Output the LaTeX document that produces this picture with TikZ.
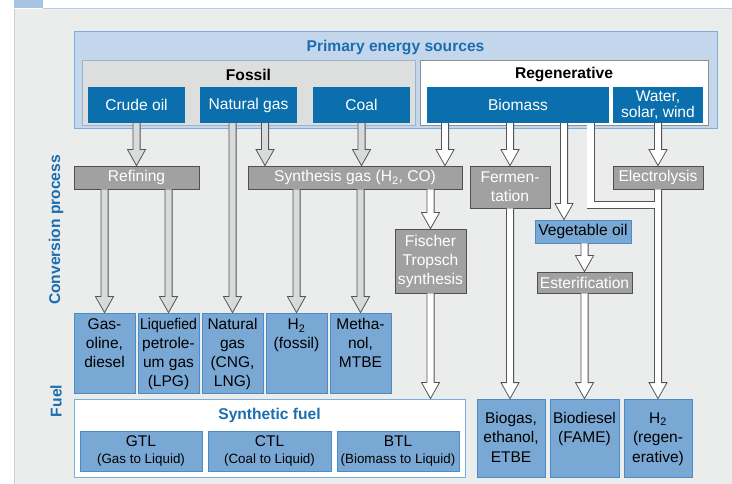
\documentclass[tikz,border=0pt]{standalone}
\usepackage{fontspec}
\setmainfont{Liberation Sans}
\usepackage{graphicx}
\usepackage{xcolor}
\usetikzlibrary{calc}

\definecolor{pagegray}{HTML}{EBECEC}
\definecolor{edgegray}{HTML}{CFCFCF}
\definecolor{tabblue}{HTML}{A9C4E2}
\definecolor{tabline}{HTML}{B5CDE6}
\definecolor{primfill}{HTML}{C3D6EB}
\definecolor{primline}{HTML}{7AAEDB}
\definecolor{fossilbg}{HTML}{DDDEDE}
\definecolor{fossilline}{HTML}{9DB3C8}
\definecolor{regenline}{HTML}{8F8F8F}
\definecolor{srcblue}{HTML}{0B6FAE}
\definecolor{procgray}{HTML}{A0A1A0}
\definecolor{procline}{HTML}{505050}
\definecolor{fuelblue}{HTML}{7AA8D4}
\definecolor{fuelline}{HTML}{4A8BC8}
\definecolor{titleblue}{HTML}{1A6EB0}
\definecolor{arrowfill}{HTML}{D9DADA}
\definecolor{arrowline}{HTML}{555555}

\newcommand{\mainsize}{\fontsize{15.6}{18}\selectfont}
\newcommand{\smallsize}{\fontsize{13.4}{16}\selectfont}
\newcommand{\fuelcell}[2][61pt]{\parbox[t]{#1}{\centering #2}}

\tikzset{
  group/.style={rectangle,line width=1pt,inner sep=0pt},
  grouptitle/.style={font=\mainsize\bfseries,inner sep=0pt},
  src/.style={rectangle,fill=srcblue,text=white,minimum height=36pt,inner sep=0pt,align=center,font=\mainsize},
  proc/.style={rectangle,fill=procgray,draw=procline,line width=0.8pt,text=white,inner sep=0pt,align=center,font=\mainsize},
  fossilfuel/.style={rectangle,fill=fuelblue,draw=fuelline,line width=0.8pt,font=\fontsize{15.5}{19}\selectfont,
    minimum width=61pt,inner xsep=0pt,inner ysep=6pt,text height=11pt,text depth=57pt},
  regenfuel/.style={rectangle,fill=fuelblue,draw=fuelline,line width=0.8pt,font=\fontsize{15.5}{19.5}\selectfont,
    inner xsep=0pt,inner ysep=6pt,text height=18pt,text depth=48pt},
  synfuel/.style={rectangle,fill=fuelblue,draw=fuelline,line width=0.8pt,align=center,font=\fontsize{15.5}{18}\selectfont,
    minimum height=40pt,inner sep=0pt},
  sidelabel/.style={text=titleblue,font=\mainsize\bfseries,rotate=90,inner sep=0pt},
  blockarrow/.style={draw=arrowline,line width=0.8pt,line join=miter,
    to path={let \p1=(\tikztostart), \p2=(\tikztotarget) in
      (\x1-3.6pt,\y1) -- (\x1-3.6pt,\y2+16pt) -- (\x1-9pt,\y2+16pt) -- (\x1,\y2)
      -- (\x1+9pt,\y2+16pt) -- (\x1+3.6pt,\y2+16pt) -- (\x1+3.6pt,\y1)}},
  fossilarrow/.style={blockarrow,fill=arrowfill},
  regenarrow/.style={blockarrow,fill=white}
}

\begin{document}
\begin{tikzpicture}[x=1pt,y=-1pt]
        \useasboundingbox (0,0) rectangle (732,484);
        \fill[white] (0,0) rectangle (732,484);
        \fill[pagegray] (14,9) rectangle (732,484);
        \draw[edgegray,line width=1pt] (14,9) -- (14,484);
        \fill[tabblue] (14,0) rectangle (43,8.5);
        \draw[tabline,line width=1pt] (43,8.5) -- (732,8.5);

        % primary energy sources
        \node[group,fill=primfill,draw=primline,minimum width=643pt,minimum height=97pt] (primary) at (395.5,80.5) {};
        \node[group,fill=fossilbg,draw=fossilline,minimum width=333pt,minimum height=65pt] (fossil) at (248.5,93.5) {};
        \node[group,fill=white,draw=regenline,minimum width=288pt,minimum height=65pt] (regen) at (564,93.5) {};
        \node[grouptitle,text=titleblue] (primtitle) at (395.5,47.5) {Primary energy sources};
        \node[grouptitle] (fossiltitle) at (248.5,75) {Fossil};
        \node[grouptitle] (regentitle) at (564,75) {Regenerative};

        \node[src,minimum width=97pt] (crude) at (136.5,105) {Crude oil};
        \node[src,minimum width=97pt] (natgas) at (248.5,105) {Natural gas};
        \node[src,minimum width=97pt] (coal) at (361.5,105) {Coal};
        \node[src,minimum width=182pt] (biomass) at (518,105) {Biomass};
        \node[src,minimum width=90pt,font=\fontsize{15.6}{16}\selectfont] (water) at (658,105) {Water,\\solar, wind};

        % conversion process
        \node[proc,minimum width=125pt,minimum height=23pt] (refining) at (136.5,177.5) {Refining};
        \node[proc,minimum width=214pt,minimum height=23pt] (syngas) at (355,177.5) {Synthesis gas (H\textsubscript{2}, CO)};
        \node[proc,minimum width=80pt,minimum height=42pt,font=\fontsize{15.6}{19}\selectfont] (ferment) at (510,187) {Fermen-\\tation};
        \node[proc,minimum width=90pt,minimum height=23pt] (electro) at (658,177.5) {Electrolysis};
        \node[proc,minimum width=71pt,minimum height=64pt,font=\fontsize{15.6}{19}\selectfont] (fischer) at (430.5,261) {Fischer\\Tropsch\\synthesis};
        \node[rectangle,fill=fuelblue,draw=fuelline,line width=0.8pt,inner sep=0pt,font=\mainsize,minimum width=96pt,minimum height=23pt] (vegoil) at (583,231.5) {Vegetable oil};
        \node[proc,minimum width=95pt,minimum height=21pt] (ester) at (584.5,282.5) {Esterification};

        % fuels
        \node[fossilfuel] (gasoline) at (104.5,353) {\fuelcell{Gas-\\oline,\\diesel}};
        \node[fossilfuel] (lpg) at (168.5,353) {\fuelcell{\scalebox{0.9}[1]{Liquefied}\\petrole-\\um gas\\(LPG)}};
        \node[fossilfuel] (ngfuel) at (232.5,353) {\fuelcell{Natural\\gas\\(CNG,\\LNG)}};
        \node[fossilfuel] (h2fossil) at (296.5,353) {\fuelcell{H\textsubscript{2}\\(fossil)}};
        \node[fossilfuel] (methanol) at (360.5,353) {\fuelcell{Metha-\\nol,\\MTBE}};

        \node[group,fill=white,draw=primline,minimum width=391pt,minimum height=78pt] (synth) at (269.5,438) {};
        \node[grouptitle,text=titleblue] (synthtitle) at (269.5,415) {Synthetic fuel};
        \node[synfuel,minimum width=122pt] (gtl) at (141,451) {GTL\\[-1pt]{\smallsize (Gas to Liquid)}};
        \node[synfuel,minimum width=123pt] (ctl) at (269.5,451) {CTL\\[-1pt]{\smallsize (Coal to Liquid)}};
        \node[synfuel,minimum width=122pt] (btl) at (398,451) {BTL\\[-1pt]{\smallsize (Biomass to Liquid)}};

        \node[regenfuel] (biogas) at (511,438) {\fuelcell[68pt]{Biogas,\\ethanol,\\ETBE}};
        \node[regenfuel] (biodiesel) at (584.5,438) {\fuelcell[69pt]{Biodiesel\\(FAME)}};
        \node[regenfuel] (h2regen) at (658,438) {\fuelcell[68pt]{H\textsubscript{2}\\(regen-\\erative)}};

        \node[sidelabel] (convlabel) at (56,230) {Conversion process};
        \node[sidelabel] (fuellabel) at (56,401) {Fuel};

        % arrows
        \coordinate (ngright) at ([xshift=16.5pt]natgas.south);
        \coordinate (biosyn) at ([xshift=-73pt]biomass.south);
        \coordinate (bioveg) at ([xshift=46pt]biomass.south);
        \coordinate (biobend) at ([xshift=72.5pt]biomass.south);
        \coordinate (merge) at (654.4,205);

        \draw[fossilarrow] (crude.south) to (refining.north);
        \draw[fossilarrow] (refining.south -| gasoline.north) to (gasoline.north);
        \draw[fossilarrow] (refining.south -| lpg.north) to (lpg.north);
        \draw[fossilarrow] (natgas.south -| ngfuel.north) to (ngfuel.north);
        \draw[fossilarrow] (ngright) to (ngright |- syngas.north);
        \draw[fossilarrow] (coal.south) to (coal.south |- syngas.north);
        \draw[fossilarrow] (syngas.south -| h2fossil.north) to (h2fossil.north);
        \draw[fossilarrow] (syngas.south -| methanol.north) to (methanol.north);

        \draw[regenarrow] (biosyn) to (biosyn |- syngas.north);
        \draw[regenarrow] (syngas.south -| fischer.north) to (fischer.north);
        \draw[regenarrow] (fischer.south) to (fischer.south |- synth.north);
        \draw[regenarrow] (biomass.south -| ferment.north) to (ferment.north);
        \draw[regenarrow] (ferment.south) to (ferment.south |- biogas.north);
        \draw[regenarrow] (bioveg) to (bioveg |- vegoil.north);
        \draw[regenarrow] (vegoil.south -| ester.north) to (ester.north);
        \draw[regenarrow] (ester.south) to (biodiesel.north);
        \draw[regenarrow] (water.south) to (electro.north);
        \draw[regenarrow] (electro.south) to (h2regen.north);

        \draw[arrowline,line width=8pt,line join=miter] (biobend) |- (merge);
        \draw[white,line width=6.4pt,line join=miter] (biobend) |- ([xshift=2pt]merge);
\end{tikzpicture}
\end{document}
